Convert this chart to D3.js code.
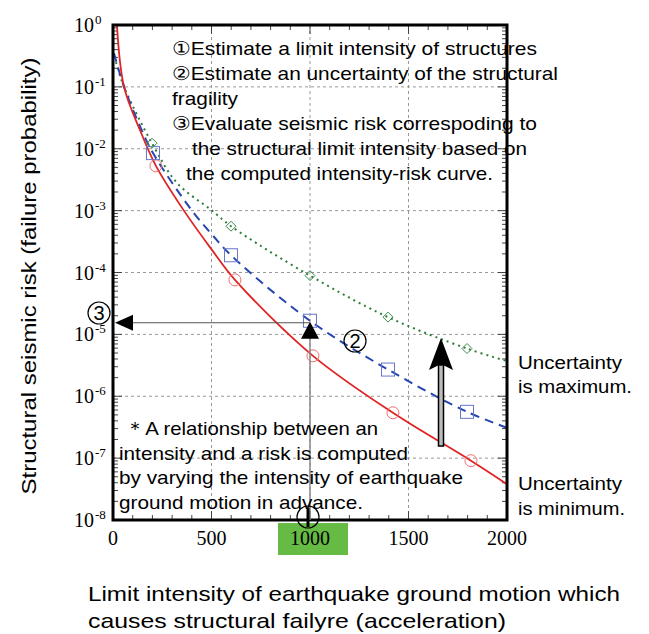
<!DOCTYPE html>
<html>
<head>
<meta charset="utf-8">
<script src="https://cdn.jsdelivr.net/npm/d3@7"></script>
<style>
  body { margin: 0; background: #fff; }
  text { font-family: "Liberation Sans", Arial, sans-serif; }
</style>
</head>
<body>
<div id="chart"></div>
<script>
let w = 649;
let h = 634;

// curve points (intensity, risk)
let minCurve = [[20, 1], [56, 0.1], [137, 2e-2], [218, 5.3e-3], [360, 1e-3], [503, 2.3e-4], [619, 7.6e-5], [1015, 4.5e-6], [1421, 5.4e-7], [1817, 9.1e-8], [2000, 3.8e-8]];
let midCurve = [[5, 0.35], [56, 0.1], [140, 2.2e-2], [203, 8.5e-3], [401, 1e-3], [503, 4.1e-4], [599, 1.9e-4], [1000, 1.66e-5], [1396, 2.7e-6], [1797, 5.6e-7], [2000, 3.1e-7]];
let maxCurve = [[15, 0.25], [56, 0.1], [198, 1.23e-2], [325, 2.8e-3], [503, 1e-3], [599, 5.6e-4], [1000, 8.9e-5], [1396, 1.9e-5], [1797, 5.9e-6], [2000, 3.7e-6]];

// marker points
let minMarks = [[218, 5.3e-3], [619, 7.6e-5], [1015, 4.5e-6], [1421, 5.4e-7], [1817, 9.1e-8]];
let midMarks = [[203, 8.5e-3], [599, 1.9e-4], [1000, 1.66e-5], [1396, 2.7e-6], [1797, 5.6e-7]];
let maxMarks = [[198, 1.23e-2], [599, 5.6e-4], [1000, 8.9e-5], [1396, 1.9e-5], [1797, 5.9e-6]];

let xTicks = [0, 500, 1000, 1500, 2000];
let yExponents = [0, -1, -2, -3, -4, -5, -6, -7, -8];

let limitIntensity = 1000;
let limitRisk = 1.66e-5;

let stepsText = [
  { t: "\u2460Estimate a limit intensity of structures", dx: 0, len: 365 },
  { t: "\u2461Estimate an uncertainty of the structural", dx: 0, len: 386 },
  { t: "fragility", dx: 0, len: 66 },
  { t: "\u2462Evaluate seismic risk correspoding to", dx: 0, len: 365 },
  { t: "the structural limit intensity based on", dx: 20, len: 335 },
  { t: "the computed intensity-risk curve.", dx: 14, len: 307 }
];
let noteText = [
  { t: "\uFF0AA relationship between an", dx: 6, len: 253 },
  { t: "intensity and a risk is computed", dx: 0, len: 289 },
  { t: "by varying the intensity of earthquake", dx: 0, len: 344 },
  { t: "ground motion in advance.", dx: 0, len: 244 }
];
let rightText = [
  { t: "Uncertainty", y: 369, len: 104 },
  { t: "is maximum.", y: 393, len: 114 },
  { t: "Uncertainty", y: 490, len: 104 },
  { t: "is minimum.", y: 515, len: 107 }
];

let viz = d3.select("#chart")
  .append("svg")
  .attr("width", w)
  .attr("height", h);

let xScale = d3.scaleLinear().domain([0, 2000]).range([113, 507]);
let yScale = d3.scaleLog().domain([1e-8, 1]).range([520, 25]);

let x0 = xScale.range()[0], x1 = xScale.range()[1];
let y0 = yScale.range()[0], y1 = yScale.range()[1];

// gridlines
let grid = viz.append("g").attr("stroke", "#999").attr("stroke-dasharray", "3,3").attr("stroke-width", 1);
[500, 1000, 1500].forEach(v => {
  grid.append("line").attr("x1", xScale(v)).attr("x2", xScale(v)).attr("y1", y0).attr("y2", y1);
});
yExponents.slice(1, -1).forEach(e => {
  grid.append("line").attr("x1", x0).attr("x2", x1).attr("y1", yScale(Math.pow(10, e))).attr("y2", yScale(Math.pow(10, e)));
});

// minor/major inner ticks
let ticks = viz.append("g").attr("stroke", "#444").attr("stroke-width", 1);
d3.range(0, 2001, 100).forEach(v => {
  let len = v % 500 == 0 ? 9 : 5;
  ticks.append("line").attr("x1", xScale(v)).attr("x2", xScale(v)).attr("y1", y0).attr("y2", y0 - len);
  ticks.append("line").attr("x1", xScale(v)).attr("x2", xScale(v)).attr("y1", y1).attr("y2", y1 + len);
});
for (let e = -8; e < 0; e++) {
  for (let m = 1; m < 10; m++) {
    let v = m * Math.pow(10, e);
    let len = m == 1 ? 9 : 5;
    ticks.append("line").attr("x1", x0).attr("x2", x0 + len).attr("y1", yScale(v)).attr("y2", yScale(v));
    ticks.append("line").attr("x1", x1).attr("x2", x1 - len).attr("y1", yScale(v)).attr("y2", yScale(v));
  }
}

// green highlight behind 1000 label
viz.append("rect")
  .attr("x", xScale(limitIntensity) - 32).attr("y", y0 + 3)
  .attr("width", 70).attr("height", 32)
  .attr("fill", "#66bb44");

// tick labels
viz.selectAll(".xlabel").data(xTicks).enter()
  .append("text")
  .attr("class", "xlabel")
  .attr("x", d => xScale(d))
  .attr("y", y0 + 25)
  .attr("text-anchor", "middle")
  .style("font-family", "'Liberation Serif', serif")
  .style("font-size", "20px")
  .text(d => d);

viz.selectAll(".ylabel").data(yExponents).enter()
  .append("text")
  .attr("class", "ylabel")
  .attr("x", 94)
  .attr("y", d => yScale(Math.pow(10, d)) + 7)
  .attr("text-anchor", "end")
  .style("font-family", "'Liberation Serif', serif")
  .style("font-size", "20px")
  .text("10");
viz.selectAll(".yexp").data(yExponents).enter()
  .append("text")
  .attr("class", "yexp")
  .attr("x", 95)
  .attr("y", d => yScale(Math.pow(10, d)) - 1)
  .style("font-family", "'Liberation Serif', serif")
  .style("font-size", "13px")
  .text(d => d);

// curves
let line = d3.line().x(d => xScale(d[0])).y(d => yScale(d[1])).curve(d3.curveCatmullRom.alpha(0.5));

viz.append("path").datum(maxCurve).attr("d", line)
  .attr("fill", "none").attr("stroke", "#2e7d3a").attr("stroke-width", 2).attr("stroke-dasharray", "2,4");
viz.append("path").datum(midCurve).attr("d", line)
  .attr("fill", "none").attr("stroke", "#2545b0").attr("stroke-width", 2).attr("stroke-dasharray", "9,6");
viz.append("path").datum(minCurve).attr("d", line)
  .attr("fill", "none").attr("stroke", "#e02424").attr("stroke-width", 1.8);

// markers
viz.selectAll(".minmark").data(minMarks).enter()
  .append("circle")
  .attr("class", "minmark")
  .attr("cx", d => xScale(d[0])).attr("cy", d => yScale(d[1]))
  .attr("r", 6).attr("fill", "none").attr("stroke", "#f07070").attr("stroke-width", 1);
viz.selectAll(".midmark").data(midMarks).enter()
  .append("rect")
  .attr("class", "midmark")
  .attr("x", d => xScale(d[0]) - 6.5).attr("y", d => yScale(d[1]) - 6.5)
  .attr("width", 13).attr("height", 13)
  .attr("fill", "none").attr("stroke", "#6677cc").attr("stroke-width", 1);
viz.selectAll(".maxmark").data(maxMarks).enter()
  .append("path")
  .attr("class", "maxmark")
  .attr("d", d => {
    let cx = xScale(d[0]), cy = yScale(d[1]);
    return `M${cx},${cy - 5}L${cx + 5},${cy}L${cx},${cy + 5}L${cx - 5},${cy}Z`;
  })
  .attr("fill", "none").attr("stroke", "#3a8a4a").attr("stroke-width", 1);

// frame
viz.append("rect")
  .attr("x", x0).attr("y", y1)
  .attr("width", x1 - x0).attr("height", y0 - y1)
  .attr("fill", "none").attr("stroke", "#000").attr("stroke-width", 3);

// arrows for step 3
let lx = xScale(limitIntensity), ly = yScale(limitRisk);
viz.append("line").attr("x1", lx).attr("x2", lx).attr("y1", y0).attr("y2", ly + 16)
  .attr("stroke", "#888").attr("stroke-width", 1.5);
viz.append("path").attr("d", `M${lx},${ly + 1}L${lx + 9},${ly + 18}L${lx - 9},${ly + 18}Z`).attr("fill", "#000");
viz.append("line").attr("x1", x0 + 18).attr("x2", lx).attr("y1", ly + 2).attr("y2", ly + 2)
  .attr("stroke", "#555").attr("stroke-width", 1);
viz.append("path").attr("d", `M${x0 + 2},${ly + 2}L${x0 + 20},${ly - 6}L${x0 + 20},${ly + 10}Z`).attr("fill", "#000");

// big double-line arrow (uncertainty)
let ax = 441;
viz.append("rect").attr("x", ax - 2.5).attr("y", 365).attr("width", 5).attr("height", 81)
  .attr("fill", "#bbb").attr("stroke", "#000").attr("stroke-width", 1.5);
viz.append("path").attr("d", `M${ax},${338}L${ax + 12},${370}L${ax + 2},${365}L${ax - 2},${365}L${ax - 12},${370}Z`).attr("fill", "#000");

// circled numbers
function circled(cx, cy, label) {
  viz.append("circle").attr("cx", cx).attr("cy", cy).attr("r", 11)
    .attr("fill", "none").attr("stroke", "#000").attr("stroke-width", 1.2);
  viz.append("text").attr("x", cx).attr("y", cy + 7).attr("text-anchor", "middle")
    .style("font-size", "20px").text(label);
}
circled(99, 313, "3");
circled(355, 341, "2");
viz.append("circle").attr("cx", lx - 2).attr("cy", y0 - 3).attr("r", 11)
  .attr("fill", "none").attr("stroke", "#000").attr("stroke-width", 1.2);
viz.append("line").attr("x1", lx - 2).attr("x2", lx - 2).attr("y1", y0 - 12).attr("y2", y0 + 7)
  .attr("stroke", "#000").attr("stroke-width", 3);

// text blocks
viz.selectAll(".step").data(stepsText).enter()
  .append("text")
  .attr("class", "step")
  .attr("x", d => 172 + d.dx)
  .attr("y", (d, i) => 55 + i * 25)
  .attr("textLength", d => d.len)
  .attr("lengthAdjust", "spacingAndGlyphs")
  .style("font-size", "19px")
  .text(d => d.t);

viz.selectAll(".note").data(noteText).enter()
  .append("text")
  .attr("class", "note")
  .attr("x", d => 119 + d.dx)
  .attr("y", (d, i) => 435 + i * 24.5)
  .attr("textLength", d => d.len)
  .attr("lengthAdjust", "spacingAndGlyphs")
  .style("font-size", "19px")
  .text(d => d.t);

viz.selectAll(".rt").data(rightText).enter()
  .append("text")
  .attr("class", "rt")
  .attr("x", 518).attr("y", d => d.y)
  .attr("textLength", d => d.len)
  .attr("lengthAdjust", "spacingAndGlyphs")
  .style("font-size", "18px")
  .text(d => d.t);

// axis titles
viz.append("text")
  .attr("transform", "translate(36,276) rotate(-90)")
  .attr("text-anchor", "middle")
  .attr("textLength", 437)
  .attr("lengthAdjust", "spacingAndGlyphs")
  .style("font-size", "21px")
  .text("Structural seismic risk (failure probability)");

viz.append("text").attr("x", 88).attr("y", 601).style("font-size", "21px")
  .attr("textLength", 532).attr("lengthAdjust", "spacingAndGlyphs")
  .text("Limit intensity of earthquake ground motion which");
viz.append("text").attr("x", 88).attr("y", 628).style("font-size", "21px")
  .attr("textLength", 418).attr("lengthAdjust", "spacingAndGlyphs")
  .text("causes structural failyre (acceleration)");
</script>
</body>
</html>
